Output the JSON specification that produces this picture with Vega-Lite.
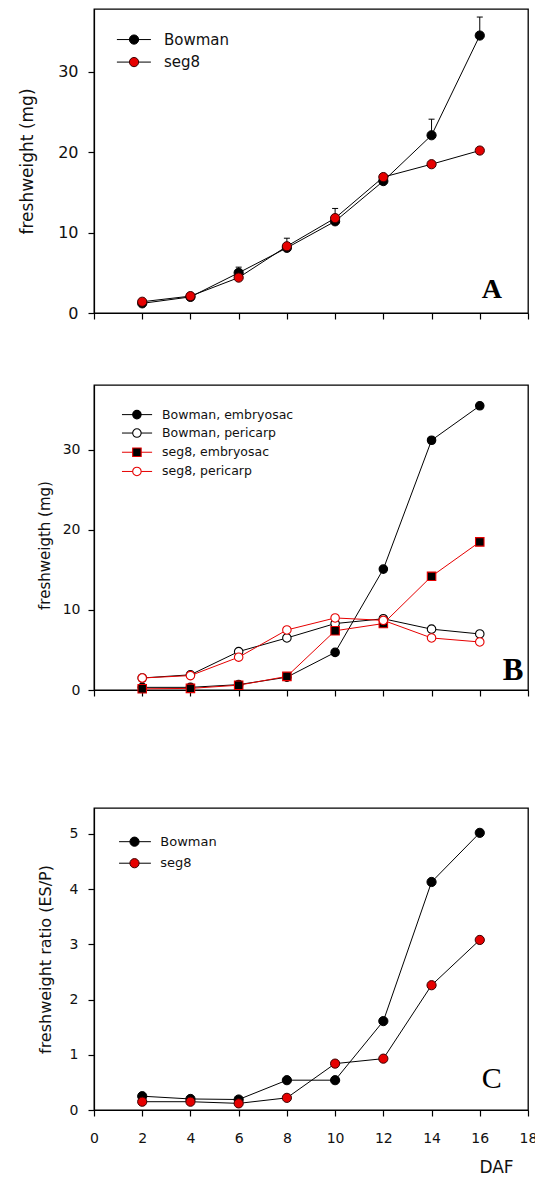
{
  "$schema": "https://vega.github.io/schema/vega-lite/v6.json",
  "background": "white",
  "padding": {"left": 17, "top": 8, "right": 0, "bottom": 0},
  "config": {
    "font": "DejaVu Sans",
    "view": {"stroke": "black", "strokeWidth": 1.3},
    "axis": {"domainColor": "black", "tickColor": "black", "labelColor": "#111", "titleColor": "#111", "labelFont": "DejaVu Sans", "titleFont": "DejaVu Sans", "titleFontWeight": "normal", "grid": false, "tickSize": 6, "domainWidth": 1.2, "tickWidth": 1.2, "labelFlush": false, "labelOverlap": false}
  },
  "datasets": {
    "A": [
      {"series": "Bowman", "day": 2, "w": 1.2},
      {"series": "Bowman", "day": 4, "w": 2.0},
      {"series": "Bowman", "day": 6, "w": 5.0, "hi": 5.7},
      {"series": "Bowman", "day": 8, "w": 8.1, "hi": 9.3},
      {"series": "Bowman", "day": 10, "w": 11.4, "hi": 13.0},
      {"series": "Bowman", "day": 12, "w": 16.4},
      {"series": "Bowman", "day": 14, "w": 22.1, "hi": 24.1},
      {"series": "Bowman", "day": 16, "w": 34.5, "hi": 36.8},
      {"series": "seg8", "day": 2, "w": 1.4},
      {"series": "seg8", "day": 4, "w": 2.1},
      {"series": "seg8", "day": 6, "w": 4.4},
      {"series": "seg8", "day": 8, "w": 8.3},
      {"series": "seg8", "day": 10, "w": 11.8},
      {"series": "seg8", "day": 12, "w": 16.9},
      {"series": "seg8", "day": 14, "w": 18.5},
      {"series": "seg8", "day": 16, "w": 20.2}
    ],
    "B": [
      {"series": "Bowman, embryosac", "day": 2, "w": 0.33},
      {"series": "Bowman, embryosac", "day": 4, "w": 0.33},
      {"series": "Bowman, embryosac", "day": 6, "w": 0.67},
      {"series": "Bowman, embryosac", "day": 8, "w": 1.6},
      {"series": "Bowman, embryosac", "day": 10, "w": 4.7},
      {"series": "Bowman, embryosac", "day": 12, "w": 15.1},
      {"series": "Bowman, embryosac", "day": 14, "w": 31.2},
      {"series": "Bowman, embryosac", "day": 16, "w": 35.5},
      {"series": "Bowman, pericarp", "day": 2, "w": 1.5},
      {"series": "Bowman, pericarp", "day": 4, "w": 1.9},
      {"series": "Bowman, pericarp", "day": 6, "w": 4.8},
      {"series": "Bowman, pericarp", "day": 8, "w": 6.5},
      {"series": "Bowman, pericarp", "day": 10, "w": 8.3},
      {"series": "Bowman, pericarp", "day": 12, "w": 8.9},
      {"series": "Bowman, pericarp", "day": 14, "w": 7.6},
      {"series": "Bowman, pericarp", "day": 16, "w": 7.0},
      {"series": "seg8, embryosac", "day": 2, "w": 0.15},
      {"series": "seg8, embryosac", "day": 4, "w": 0.2},
      {"series": "seg8, embryosac", "day": 6, "w": 0.6},
      {"series": "seg8, embryosac", "day": 8, "w": 1.7},
      {"series": "seg8, embryosac", "day": 10, "w": 7.4},
      {"series": "seg8, embryosac", "day": 12, "w": 8.3},
      {"series": "seg8, embryosac", "day": 14, "w": 14.2},
      {"series": "seg8, embryosac", "day": 16, "w": 18.5},
      {"series": "seg8, pericarp", "day": 2, "w": 1.5},
      {"series": "seg8, pericarp", "day": 4, "w": 1.8},
      {"series": "seg8, pericarp", "day": 6, "w": 4.1},
      {"series": "seg8, pericarp", "day": 8, "w": 7.5},
      {"series": "seg8, pericarp", "day": 10, "w": 9.0},
      {"series": "seg8, pericarp", "day": 12, "w": 8.7},
      {"series": "seg8, pericarp", "day": 14, "w": 6.5},
      {"series": "seg8, pericarp", "day": 16, "w": 6.0}
    ],
    "C": [
      {"series": "Bowman", "day": 2, "w": 0.25},
      {"series": "Bowman", "day": 4, "w": 0.2},
      {"series": "Bowman", "day": 6, "w": 0.19},
      {"series": "Bowman", "day": 8, "w": 0.54},
      {"series": "Bowman", "day": 10, "w": 0.54},
      {"series": "Bowman", "day": 12, "w": 1.61},
      {"series": "Bowman", "day": 14, "w": 4.13},
      {"series": "Bowman", "day": 16, "w": 5.02},
      {"series": "seg8", "day": 2, "w": 0.15},
      {"series": "seg8", "day": 4, "w": 0.15},
      {"series": "seg8", "day": 6, "w": 0.12},
      {"series": "seg8", "day": 8, "w": 0.22},
      {"series": "seg8", "day": 10, "w": 0.84},
      {"series": "seg8", "day": 12, "w": 0.93},
      {"series": "seg8", "day": 14, "w": 2.26},
      {"series": "seg8", "day": 16, "w": 3.08}
    ]
  },
  "bounds": "full",
  "spacing": 109,
  "resolve": {"scale": {"fill": "independent", "stroke": "independent", "shape": "independent"}},
  "vconcat": [
    {
      "bounds": "full",
      "spacing": 62,
      "resolve": {"scale": {"fill": "independent", "stroke": "independent", "shape": "independent"}},
      "vconcat": [
        {
          "width": 434,
          "height": 304,
          "layer": [
            {"data": {"name": "A"}, "transform": [{"filter": "isValid(datum.hi)"}], "mark": {"type": "rule", "color": "black", "strokeWidth": 1}, "encoding": {
              "x": {"field": "day", "type": "quantitative", "scale": {"domain": [0, 18], "nice": false, "zero": false}, "axis": {"values": [0, 2, 4, 6, 8, 10, 12, 14, 16, 18], "labels": false, "title": null}},
              "y": {"field": "w", "type": "quantitative", "scale": {"domain": [0, 37.8], "nice": false}, "axis": {"values": [0, 10, 20, 30], "title": "freshweight (mg)", "titleX": -66.6, "titleAngle": -90, "titleAlign": "center", "titleBaseline": "middle", "titleFontSize": 17, "labelFontSize": 16, "labelPadding": 10, "minExtent": 75}},
              "y2": {"field": "hi"}}},
            {"data": {"name": "A"}, "transform": [{"filter": "isValid(datum.hi)"}], "mark": {"type": "tick", "orient": "horizontal", "color": "black", "size": 6, "thickness": 1, "opacity": 1}, "encoding": {"x": {"field": "day", "type": "quantitative"}, "y": {"field": "hi", "type": "quantitative"}}},
            {"data": {"name": "A"}, "mark": {"type": "line", "color": "black", "strokeWidth": 1}, "encoding": {"x": {"field": "day", "type": "quantitative"}, "y": {"field": "w", "type": "quantitative"}, "detail": {"field": "series"}}},
            {"data": {"name": "A"}, "mark": {"type": "point", "shape": "circle", "filled": true, "size": 85, "strokeWidth": 1, "opacity": 1}, "encoding": {
              "x": {"field": "day", "type": "quantitative"}, "y": {"field": "w", "type": "quantitative"},
              "fill": {"field": "series", "type": "nominal", "scale": {"domain": ["Bowman", "seg8"], "range": ["black", "#e60000"]}, "legend": null},
              "stroke": {"field": "series", "type": "nominal", "scale": {"domain": ["Bowman", "seg8"], "range": ["black", "#3a0000"]}, "legend": null}}},
            {"data": {"values": [{"t": "Bowman"}]}, "mark": {"type": "rule", "color": "black", "strokeWidth": 1}, "encoding": {"x": {"datum": 0.95}, "x2": {"datum": 2.36}, "y": {"datum": 34.0}}},
            {"data": {"values": [{"t": "Bowman"}]}, "mark": {"type": "point", "shape": "circle", "filled": true, "fill": "black", "stroke": "black", "strokeWidth": 1, "size": 85, "opacity": 1}, "encoding": {"x": {"datum": 1.66}, "y": {"datum": 34.0}}},
            {"data": {"values": [{"t": "Bowman"}]}, "mark": {"type": "text", "align": "left", "baseline": "middle", "font": "DejaVu Sans", "fontSize": 15, "color": "#111"}, "encoding": {"x": {"datum": 2.9}, "y": {"datum": 34.0}, "text": {"field": "t"}}},
            {"data": {"values": [{"t": "seg8"}]}, "mark": {"type": "rule", "color": "black", "strokeWidth": 1}, "encoding": {"x": {"datum": 0.95}, "x2": {"datum": 2.36}, "y": {"datum": 31.2}}},
            {"data": {"values": [{"t": "seg8"}]}, "mark": {"type": "point", "shape": "circle", "filled": true, "fill": "#e60000", "stroke": "#3a0000", "strokeWidth": 1, "size": 85, "opacity": 1}, "encoding": {"x": {"datum": 1.66}, "y": {"datum": 31.2}}},
            {"data": {"values": [{"t": "seg8"}]}, "mark": {"type": "text", "align": "left", "baseline": "middle", "font": "DejaVu Sans", "fontSize": 15, "color": "#111"}, "encoding": {"x": {"datum": 2.9}, "y": {"datum": 31.2}, "text": {"field": "t"}}},
            {"data": {"values": [{"t": "A"}]}, "mark": {"type": "text", "font": "Liberation Serif", "fontSize": 28, "fontWeight": "bold", "align": "center", "baseline": "alphabetic", "color": "black"}, "encoding": {"x": {"datum": 16.5}, "y": {"datum": 1.9}, "text": {"field": "t"}}}
          ]
        },
        {
          "width": 434,
          "height": 305,
          "layer": [
            {"data": {"name": "B"}, "mark": {"type": "line", "strokeWidth": 1}, "encoding": {
              "x": {"field": "day", "type": "quantitative", "scale": {"domain": [0, 18], "nice": false, "zero": false}, "axis": {"values": [0, 2, 4, 6, 8, 10, 12, 14, 16, 18], "labels": false, "title": null}},
              "y": {"field": "w", "type": "quantitative", "scale": {"domain": [0, 38.1], "nice": false}, "axis": {"values": [0, 10, 20, 30], "title": "freshweigth (mg)", "titleX": -49.4, "titleY": 160, "titleAngle": -90, "titleAlign": "center", "titleBaseline": "middle", "titleFontSize": 15, "labelFontSize": 14, "labelPadding": 8, "minExtent": 75}},
              "stroke": {"field": "series", "type": "nominal", "scale": {"domain": ["Bowman, embryosac", "Bowman, pericarp", "seg8, embryosac", "seg8, pericarp"], "range": ["black", "black", "#e60000", "#e60000"]}, "legend": null}}},
            {"data": {"name": "B"}, "mark": {"type": "point", "filled": true, "size": 72, "strokeWidth": 1.1, "opacity": 1}, "encoding": {
              "x": {"field": "day", "type": "quantitative"}, "y": {"field": "w", "type": "quantitative"},
              "shape": {"field": "series", "type": "nominal", "scale": {"domain": ["Bowman, embryosac", "Bowman, pericarp", "seg8, embryosac", "seg8, pericarp"], "range": ["circle", "circle", "square", "circle"]}, "legend": null},
              "fill": {"field": "series", "type": "nominal", "scale": {"domain": ["Bowman, embryosac", "Bowman, pericarp", "seg8, embryosac", "seg8, pericarp"], "range": ["black", "white", "black", "white"]}, "legend": null},
              "stroke": {"field": "series", "type": "nominal", "scale": {"domain": ["Bowman, embryosac", "Bowman, pericarp", "seg8, embryosac", "seg8, pericarp"], "range": ["black", "black", "#e60000", "#e60000"]}, "legend": null}}},
            {"data": {"values": [{"t": "Bowman, embryosac"}]}, "mark": {"type": "rule", "color": "black", "strokeWidth": 1}, "encoding": {"x": {"datum": 1.16}, "x2": {"datum": 2.41}, "y": {"datum": 34.4}}},
            {"data": {"values": [{"t": "Bowman, embryosac"}]}, "mark": {"type": "point", "shape": "circle", "filled": true, "fill": "black", "stroke": "black", "strokeWidth": 1.1, "size": 72, "opacity": 1}, "encoding": {"x": {"datum": 1.78}, "y": {"datum": 34.4}}},
            {"data": {"values": [{"t": "Bowman, embryosac"}]}, "mark": {"type": "text", "align": "left", "baseline": "middle", "font": "DejaVu Sans", "fontSize": 12.5, "color": "#111"}, "encoding": {"x": {"datum": 2.82}, "y": {"datum": 34.4}, "text": {"field": "t"}}},
            {"data": {"values": [{"t": "Bowman, pericarp"}]}, "mark": {"type": "rule", "color": "black", "strokeWidth": 1}, "encoding": {"x": {"datum": 1.16}, "x2": {"datum": 2.41}, "y": {"datum": 32.1}}},
            {"data": {"values": [{"t": "Bowman, pericarp"}]}, "mark": {"type": "point", "shape": "circle", "filled": true, "fill": "white", "stroke": "black", "strokeWidth": 1.1, "size": 72, "opacity": 1}, "encoding": {"x": {"datum": 1.78}, "y": {"datum": 32.1}}},
            {"data": {"values": [{"t": "Bowman, pericarp"}]}, "mark": {"type": "text", "align": "left", "baseline": "middle", "font": "DejaVu Sans", "fontSize": 12.5, "color": "#111"}, "encoding": {"x": {"datum": 2.82}, "y": {"datum": 32.1}, "text": {"field": "t"}}},
            {"data": {"values": [{"t": "seg8, embryosac"}]}, "mark": {"type": "rule", "color": "#e60000", "strokeWidth": 1}, "encoding": {"x": {"datum": 1.16}, "x2": {"datum": 2.41}, "y": {"datum": 29.7}}},
            {"data": {"values": [{"t": "seg8, embryosac"}]}, "mark": {"type": "point", "shape": "square", "filled": true, "fill": "black", "stroke": "#e60000", "strokeWidth": 1.1, "size": 72, "opacity": 1}, "encoding": {"x": {"datum": 1.78}, "y": {"datum": 29.7}}},
            {"data": {"values": [{"t": "seg8, embryosac"}]}, "mark": {"type": "text", "align": "left", "baseline": "middle", "font": "DejaVu Sans", "fontSize": 12.5, "color": "#111"}, "encoding": {"x": {"datum": 2.82}, "y": {"datum": 29.7}, "text": {"field": "t"}}},
            {"data": {"values": [{"t": "seg8, pericarp"}]}, "mark": {"type": "rule", "color": "#e60000", "strokeWidth": 1}, "encoding": {"x": {"datum": 1.16}, "x2": {"datum": 2.41}, "y": {"datum": 27.3}}},
            {"data": {"values": [{"t": "seg8, pericarp"}]}, "mark": {"type": "point", "shape": "circle", "filled": true, "fill": "white", "stroke": "#e60000", "strokeWidth": 1.1, "size": 72, "opacity": 1}, "encoding": {"x": {"datum": 1.78}, "y": {"datum": 27.3}}},
            {"data": {"values": [{"t": "seg8, pericarp"}]}, "mark": {"type": "text", "align": "left", "baseline": "middle", "font": "DejaVu Sans", "fontSize": 12.5, "color": "#111"}, "encoding": {"x": {"datum": 2.82}, "y": {"datum": 27.3}, "text": {"field": "t"}}},
            {"data": {"values": [{"t": "B"}]}, "mark": {"type": "text", "font": "Liberation Serif", "fontSize": 31, "fontWeight": "bold", "align": "center", "baseline": "alphabetic", "color": "black"}, "encoding": {"x": {"datum": 17.38}, "y": {"datum": 1.25}, "text": {"field": "t"}}}
          ]
        }
      ]
    },
    {
      "width": 434,
      "height": 302,
      "layer": [
        {"data": {"name": "C"}, "mark": {"type": "line", "color": "black", "strokeWidth": 1}, "encoding": {
          "x": {"field": "day", "type": "quantitative", "scale": {"domain": [0, 18], "nice": false, "zero": false}, "axis": {"values": [0, 2, 4, 6, 8, 10, 12, 14, 16, 18], "labelFontSize": 14, "labelPadding": 15, "title": "DAF", "titleX": 402, "titleY": 57, "titleAngle": 0, "titleAlign": "center", "titleBaseline": "middle", "titleFontSize": 17}},
          "y": {"field": "w", "type": "quantitative", "scale": {"domain": [0, 5.47], "nice": false}, "axis": {"values": [0, 1, 2, 3, 4, 5], "format": "d", "title": "freshweight ratio (ES/P)", "titleX": -48.4, "titleAngle": -90, "titleAlign": "center", "titleBaseline": "middle", "titleFontSize": 16, "labelFontSize": 14, "labelPadding": 10, "minExtent": 75}},
          "detail": {"field": "series"}}},
        {"data": {"name": "C"}, "mark": {"type": "point", "shape": "circle", "filled": true, "size": 85, "strokeWidth": 1, "opacity": 1}, "encoding": {
          "x": {"field": "day", "type": "quantitative"}, "y": {"field": "w", "type": "quantitative"},
          "fill": {"field": "series", "type": "nominal", "scale": {"domain": ["Bowman", "seg8"], "range": ["black", "#e60000"]}, "legend": null},
          "stroke": {"field": "series", "type": "nominal", "scale": {"domain": ["Bowman", "seg8"], "range": ["black", "#3a0000"]}, "legend": null}}},
        {"data": {"values": [{"t": "Bowman"}]}, "mark": {"type": "rule", "color": "black", "strokeWidth": 1}, "encoding": {"x": {"datum": 1.04}, "x2": {"datum": 2.36}, "y": {"datum": 4.86}}},
        {"data": {"values": [{"t": "Bowman"}]}, "mark": {"type": "point", "shape": "circle", "filled": true, "fill": "black", "stroke": "black", "strokeWidth": 1, "size": 85, "opacity": 1}, "encoding": {"x": {"datum": 1.68}, "y": {"datum": 4.86}}},
        {"data": {"values": [{"t": "Bowman"}]}, "mark": {"type": "text", "align": "left", "baseline": "middle", "font": "DejaVu Sans", "fontSize": 13, "color": "#111"}, "encoding": {"x": {"datum": 2.75}, "y": {"datum": 4.86}, "text": {"field": "t"}}},
        {"data": {"values": [{"t": "seg8"}]}, "mark": {"type": "rule", "color": "black", "strokeWidth": 1}, "encoding": {"x": {"datum": 1.04}, "x2": {"datum": 2.36}, "y": {"datum": 4.47}}},
        {"data": {"values": [{"t": "seg8"}]}, "mark": {"type": "point", "shape": "circle", "filled": true, "fill": "#e60000", "stroke": "#3a0000", "strokeWidth": 1, "size": 85, "opacity": 1}, "encoding": {"x": {"datum": 1.68}, "y": {"datum": 4.47}}},
        {"data": {"values": [{"t": "seg8"}]}, "mark": {"type": "text", "align": "left", "baseline": "middle", "font": "DejaVu Sans", "fontSize": 13, "color": "#111"}, "encoding": {"x": {"datum": 2.75}, "y": {"datum": 4.47}, "text": {"field": "t"}}},
        {"data": {"values": [{"t": "C"}]}, "mark": {"type": "text", "font": "Liberation Serif", "fontSize": 30, "align": "center", "baseline": "alphabetic", "color": "black"}, "encoding": {"x": {"datum": 16.5}, "y": {"datum": 0.39}, "text": {"field": "t"}}}
      ]
    }
  ]
}
